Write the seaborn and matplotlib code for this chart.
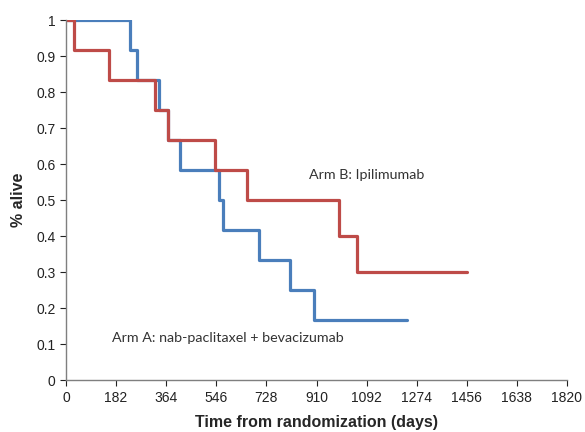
import matplotlib
matplotlib.use("Agg")
import matplotlib.pyplot as plt
import seaborn as sns
import pandas as pd

# Arm A: nab-paclitaxel + bevacizumab (blue)
arm_a_days = [0, 232, 258, 338, 370, 414, 555, 572, 701, 812, 901, 1238]
arm_a_surv = [1.0, 0.917, 0.833, 0.75, 0.667, 0.583, 0.5, 0.417, 0.333, 0.25, 0.167, 0.167]

# Arm B: Ipilimumab (red)
arm_b_days = [0, 30, 158, 322, 370, 543, 656, 990, 1058, 1458]
arm_b_surv = [1.0, 0.917, 0.833, 0.75, 0.667, 0.583, 0.5, 0.4, 0.3, 0.3]

x_ticks = [0, 182, 364, 546, 728, 910, 1092, 1274, 1456, 1638, 1820]
y_ticks = [0, 0.1, 0.2, 0.3, 0.4, 0.5, 0.6, 0.7, 0.8, 0.9, 1]
y_tick_labels = ["0", "0.1", "0.2", "0.3", "0.4", "0.5", "0.6", "0.7", "0.8", "0.9", "1"]

label_a = "Arm A: nab-paclitaxel + bevacizumab"
label_b = "Arm B: Ipilimumab"

sns.set_style("white")
plt.rcParams['font.family'] = ['Liberation Sans', 'DejaVu Sans']

df_a = pd.DataFrame({"days": arm_a_days, "surv": arm_a_surv})
df_b = pd.DataFrame({"days": arm_b_days, "surv": arm_b_surv})

fig = plt.figure(figsize=(5.85, 4.32), dpi=100)
ax = fig.add_axes([66/585, 1-380/432, (567-66)/585, (380-20)/432])

sns.lineplot(data=df_a, x="days", y="surv", ax=ax, drawstyle="steps-post",
             color="#4a7ebb", linewidth=2.3, estimator=None, sort=False)
sns.lineplot(data=df_b, x="days", y="surv", ax=ax, drawstyle="steps-post",
             color="#be4b48", linewidth=2.3, estimator=None, sort=False)

ax.set_xlim(0, 1820)
ax.set_ylim(0, 1)
ax.set_xticks(x_ticks)
ax.set_xticklabels([str(t) for t in x_ticks])
ax.set_yticks(y_ticks)
ax.set_yticklabels(y_tick_labels)
ax.tick_params(axis="both", direction="out", length=4, width=0.8, labelsize=10,
               colors="#222222", bottom=True, left=True)
ax.tick_params(axis="x", pad=4)
for s in ["top", "right"]:
    ax.spines[s].set_visible(False)
for s in ["left", "bottom"]:
    ax.spines[s].set_color("#7f7f7f")
    ax.spines[s].set_linewidth(1.0)

ax.set_xlabel("Time from randomization (days)", fontsize=11.5, fontweight="bold", labelpad=7)
ax.set_ylabel("% alive", fontsize=11.5, fontweight="bold", labelpad=7)

ax.text(884, 0.57, label_b, fontsize=10.3, family=["Lato", "DejaVu Sans"], color="#333333",
        ha="left", va="center")
ax.text(168, 0.117, label_a, fontsize=10.3, family=["Lato", "DejaVu Sans"], color="#333333",
        ha="left", va="center")

fig.savefig("out.png", dpi=100)
